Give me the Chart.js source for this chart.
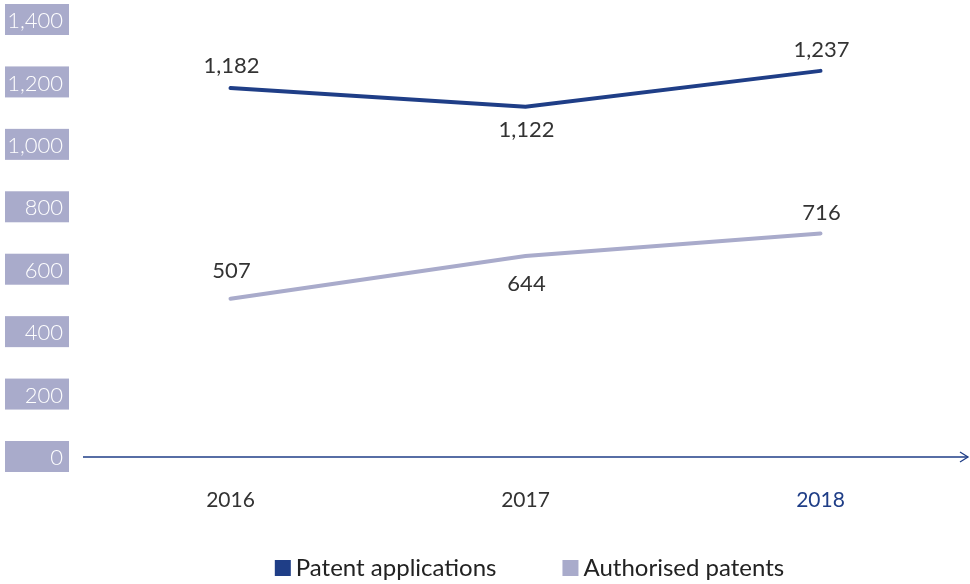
<!DOCTYPE html>
<html>
<head>
<meta charset="utf-8">
<script src="https://cdn.jsdelivr.net/npm/chart.js@4.4.0/dist/chart.umd.min.js"></script>
<style>
  body { margin: 0; background: #fff; }
  #wrap { width: 970px; height: 584px; }
</style>
</head>
<body>
<div id="wrap"><canvas id="patentChart"></canvas></div>
<script>
// data
const years = ['2016', '2017', '2018'];
const applications = [1182, 1122, 1237];
const authorised = [507, 644, 716];
const yTicks = [0, 200, 400, 600, 800, 1000, 1200, 1400];

const NAVY = '#1f3e87';
const LAVENDER = '#a9abcb';
const FONT = 'Lato, "Noto Sans", sans-serif';

// value labels over/under the line points
const valueLabels = {
    id: 'valueLabels',
    afterDatasetsDraw(chart) {
        const ctx = chart.ctx;
        ctx.save();
        ctx.font = '22px ' + FONT;
        ctx.fillStyle = '#333';
        ctx.textAlign = 'center';
        ctx.textBaseline = 'middle';
        chart.data.datasets.forEach((ds, i) => {
            const meta = chart.getDatasetMeta(i);
            meta.data.forEach((pt, j) => {
                const off = ds.labelOffsets[j];
                ctx.fillText(ds.data[j].toLocaleString('en-US'), pt.x + 1, pt.y + off);
            });
        });
        ctx.restore();
    }
};

// lavender boxes for y values + x axis line with arrow + legend
const axisDeco = {
    id: 'axisDeco',
    afterDraw(chart) {
        const ctx = chart.ctx;
        const y = chart.scales.y;
        const area = chart.chartArea;
        ctx.save();
        ctx.font = '300 22px ' + FONT;
        ctx.textAlign = 'right';
        ctx.textBaseline = 'middle';
        yTicks.forEach(v => {
            const py = y.getPixelForValue(v);
            ctx.fillStyle = LAVENDER;
            ctx.fillRect(5, py - 16, 64, 31);
            ctx.fillStyle = '#fff';
            ctx.fillText(v.toLocaleString('en-US'), 63, py + 1);
        });
        const base = y.getPixelForValue(0);
        ctx.strokeStyle = NAVY;
        ctx.lineWidth = 1.3;
        ctx.beginPath();
        ctx.moveTo(area.left, base);
        ctx.lineTo(968, base);
        ctx.stroke();
        ctx.beginPath();
        ctx.moveTo(960, base - 5);
        ctx.lineTo(968, base);
        ctx.lineTo(960, base + 5);
        ctx.stroke();

        // legend
        ctx.font = '24px ' + FONT;
        ctx.textAlign = 'left';
        const items = chart.data.datasets.map(ds => ({
            text: ds.label, color: ds.borderColor, w: 16 + 5 + ctx.measureText(ds.label).width
        }));
        const gap = 66;
        const total = items.reduce((s, it) => s + it.w, 0) + gap * (items.length - 1);
        let x = (area.left + area.right) / 2 - total / 2 + 4;
        const ly = 568;
        items.forEach(it => {
            ctx.fillStyle = it.color;
            ctx.fillRect(x, ly - 8, 16, 16);
            ctx.fillStyle = '#222';
            ctx.fillText(it.text, x + 21, ly);
            x += it.w + gap;
        });
        ctx.restore();
    }
};

const ctxPatent = document.getElementById('patentChart').getContext('2d');
const patentChart = new Chart(ctxPatent, {
    type: 'line',
    data: {
        labels: years,
        datasets: [{
            label: 'Patent applications',
            data: applications,
            borderColor: NAVY,
            backgroundColor: NAVY,
            borderWidth: 4,
            borderCapStyle: 'round',
            pointRadius: 0,
            labelOffsets: [-22, 23, -21]
        }, {
            label: 'Authorised patents',
            data: authorised,
            borderColor: LAVENDER,
            backgroundColor: LAVENDER,
            borderWidth: 4,
            borderCapStyle: 'round',
            pointRadius: 0,
            labelOffsets: [-28, 28, -21]
        }]
    },
    options: {
        responsive: true,
        maintainAspectRatio: false,
        animation: false,
        layout: { padding: { left: 83, right: 2, top: 20, bottom: 67 } },
        plugins: {
            legend: { display: false },
            tooltip: { enabled: false }
        },
        scales: {
            x: {
                offset: true,
                grid: { display: false },
                border: { display: false },
                ticks: {
                    font: { family: FONT, size: 21 },
                    color: ctx => ctx.index === 2 ? NAVY : '#333',
                    padding: 23
                },
                afterFit: s => { s.height = 60; }
            },
            y: {
                display: false,
                min: 0,
                max: 1400
            }
        }
    },
    plugins: [valueLabels, axisDeco]
});
</script>
</body>
</html>
